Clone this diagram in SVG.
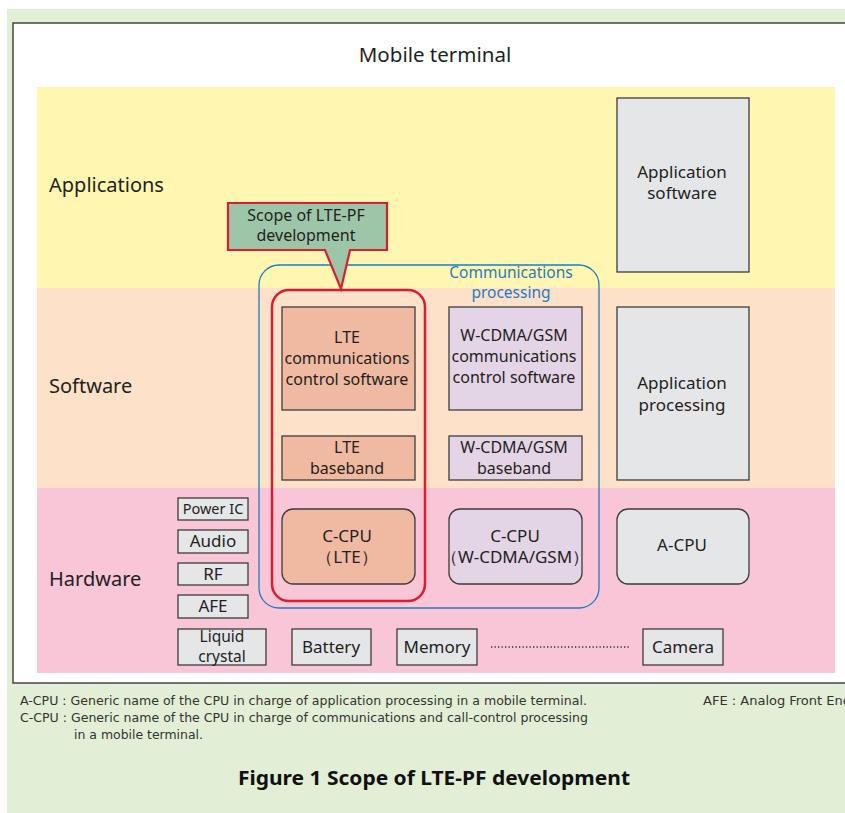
<svg xmlns="http://www.w3.org/2000/svg" width="845" height="813" viewBox="0 0 845 813">
<style>
text{font-family:"Noto Sans","Open Sans","DejaVu Sans",sans-serif;fill:#231f20}
.lbl{font-size:20px}
.bx{font-size:16px;text-anchor:middle}
.big{font-size:17px;text-anchor:middle}
.sm{font-size:17px;text-anchor:middle}
.gray{fill:#e5e6e8;stroke:#3c3c3c;stroke-width:1.3}
.lte{fill:#f0b9a2;stroke:#3c3c3c;stroke-width:1.3}
.wc{fill:#e3d4e6;stroke:#3c3c3c;stroke-width:1.3}
.note{font-family:"Liberation Sans Narrow","DejaVu Sans Condensed","Liberation Sans",sans-serif;font-size:12.5px;fill:#333}
</style>
<rect x="7" y="9" width="838" height="804" fill="#e2efd6"/>
<rect x="13" y="23" width="840" height="660" fill="#fff" stroke="#444" stroke-width="1.5"/>
<text x="435" y="62" font-size="20.5" text-anchor="middle">Mobile terminal</text>
<rect x="37" y="87" width="798" height="201" fill="#fff7b1"/>
<rect x="37" y="288" width="798" height="200" fill="#fde1c9"/>
<rect x="37" y="488" width="798" height="185" fill="#f8c6d7"/>
<text class="lbl" x="49" y="192">Applications</text>
<text class="lbl" x="49" y="393">Software</text>
<text class="lbl" x="49" y="586">Hardware</text>

<g id="app-software"><rect class="gray" x="617" y="98" width="132" height="174"/><text class="big" x="682" y="178">Application</text><text class="big" x="682" y="199">software</text></g>
<g id="app-processing"><rect class="gray" x="617" y="307" width="132" height="173"/><text class="big" x="682" y="389">Application</text><text class="big" x="682" y="411">processing</text></g>
<g id="a-cpu"><rect class="gray" x="617" y="509" width="132" height="75" rx="11"/><text class="big" x="682" y="551">A-CPU</text></g>

<g id="comm-processing"><rect x="259" y="265" width="340" height="343" rx="20" fill="none" stroke="#1d7cc2" stroke-width="1.3"/><text x="511" y="278" font-size="15.5" text-anchor="middle" style="fill:#1d7cc2">Communications</text><text x="511" y="298" font-size="15.5" text-anchor="middle" style="fill:#1d7cc2">processing</text></g>

<g id="lte-scope"><rect x="272" y="290" width="153" height="311" rx="17" fill="none" stroke="#d5202f" stroke-width="2.5"/></g>

<g id="lte-ctrl"><rect class="lte" x="282" y="307" width="133" height="103"/><text class="bx" x="347" y="343">LTE</text><text class="bx" x="347" y="364">communications</text><text class="bx" x="347" y="385">control software</text></g>
<g id="lte-baseband"><rect class="lte" x="282" y="436" width="133" height="44"/><text class="bx" x="347" y="453">LTE</text><text class="bx" x="347" y="474">baseband</text></g>
<g id="c-cpu-lte"><rect class="lte" x="282" y="509" width="133" height="75" rx="11"/><text class="big" x="347" y="542">C-CPU</text><text class="big" x="347" y="563">（LTE）</text></g>

<g id="wcdma-ctrl"><rect class="wc" x="449" y="307" width="133" height="103"/><text class="bx" x="514" y="341">W-CDMA/GSM</text><text class="bx" x="514" y="362">communications</text><text class="bx" x="514" y="383">control software</text></g>
<g id="wcdma-baseband"><rect class="wc" x="449" y="436" width="133" height="44"/><text class="bx" x="514" y="453">W-CDMA/GSM</text><text class="bx" x="514" y="474">baseband</text></g>
<g id="c-cpu-wcdma"><rect class="wc" x="449" y="509" width="133" height="75" rx="11"/><text class="big" x="515" y="542">C-CPU</text><text class="big" x="515" y="563">（W-CDMA/GSM）</text></g>

<g id="callout"><path d="M228,203 H387 V250 H350 L341,289 L325,250 H228 Z" fill="#9dc6a9" stroke="#d5202f" stroke-width="2.2" stroke-linejoin="miter"/><text x="306" y="221" font-size="16" text-anchor="middle">Scope of LTE-PF</text><text x="306" y="241" font-size="16" text-anchor="middle">development</text></g>

<g id="power-ic"><rect class="gray" x="178" y="498" width="70" height="22"/><text x="213" y="514" font-size="14.5" text-anchor="middle">Power IC</text></g>
<g id="audio"><rect class="gray" x="178" y="530" width="70" height="23"/><text class="sm" x="213" y="547">Audio</text></g>
<g id="rf"><rect class="gray" x="178" y="563" width="70" height="22"/><text class="sm" x="213" y="580">RF</text></g>
<g id="afe"><rect class="gray" x="178" y="595" width="70" height="23"/><text class="sm" x="213" y="612">AFE</text></g>
<g id="lcd"><rect class="gray" x="178" y="629" width="88" height="36"/><text x="222" y="642" font-size="15.5" text-anchor="middle">Liquid</text><text x="222" y="662" font-size="15.5" text-anchor="middle">crystal</text></g>
<g id="battery"><rect class="gray" x="292" y="629" width="79" height="36"/><text class="sm" x="331" y="653">Battery</text></g>
<g id="memory"><rect class="gray" x="397" y="629" width="80" height="36"/><text class="sm" x="437" y="653">Memory</text></g>
<g id="camera"><rect class="gray" x="643" y="629" width="80" height="36"/><text class="sm" x="683" y="653">Camera</text></g>
<g id="connectors"><line x1="491" y1="647" x2="630" y2="647" stroke="#333" stroke-width="1.3" stroke-dasharray="1.3,2.2"/></g>

<text class="note" x="20" y="705" textLength="567" lengthAdjust="spacingAndGlyphs">A-CPU : Generic name of the CPU in charge of application processing in a mobile terminal.</text>
<text class="note" x="20" y="722" textLength="568" lengthAdjust="spacingAndGlyphs">C-CPU : Generic name of the CPU in charge of communications and call-control processing</text>
<text class="note" x="74" y="739" textLength="129" lengthAdjust="spacingAndGlyphs">in a mobile terminal.</text>
<text class="note" x="703" y="705" textLength="148" lengthAdjust="spacingAndGlyphs">AFE : Analog Front End</text>
<text x="434" y="785" font-family="'Liberation Sans Narrow', 'Liberation Sans', Arial, sans-serif" font-weight="bold" font-size="20" text-anchor="middle" textLength="392" lengthAdjust="spacingAndGlyphs" style="fill:#111">Figure 1 Scope of LTE-PF development</text>
</svg>
